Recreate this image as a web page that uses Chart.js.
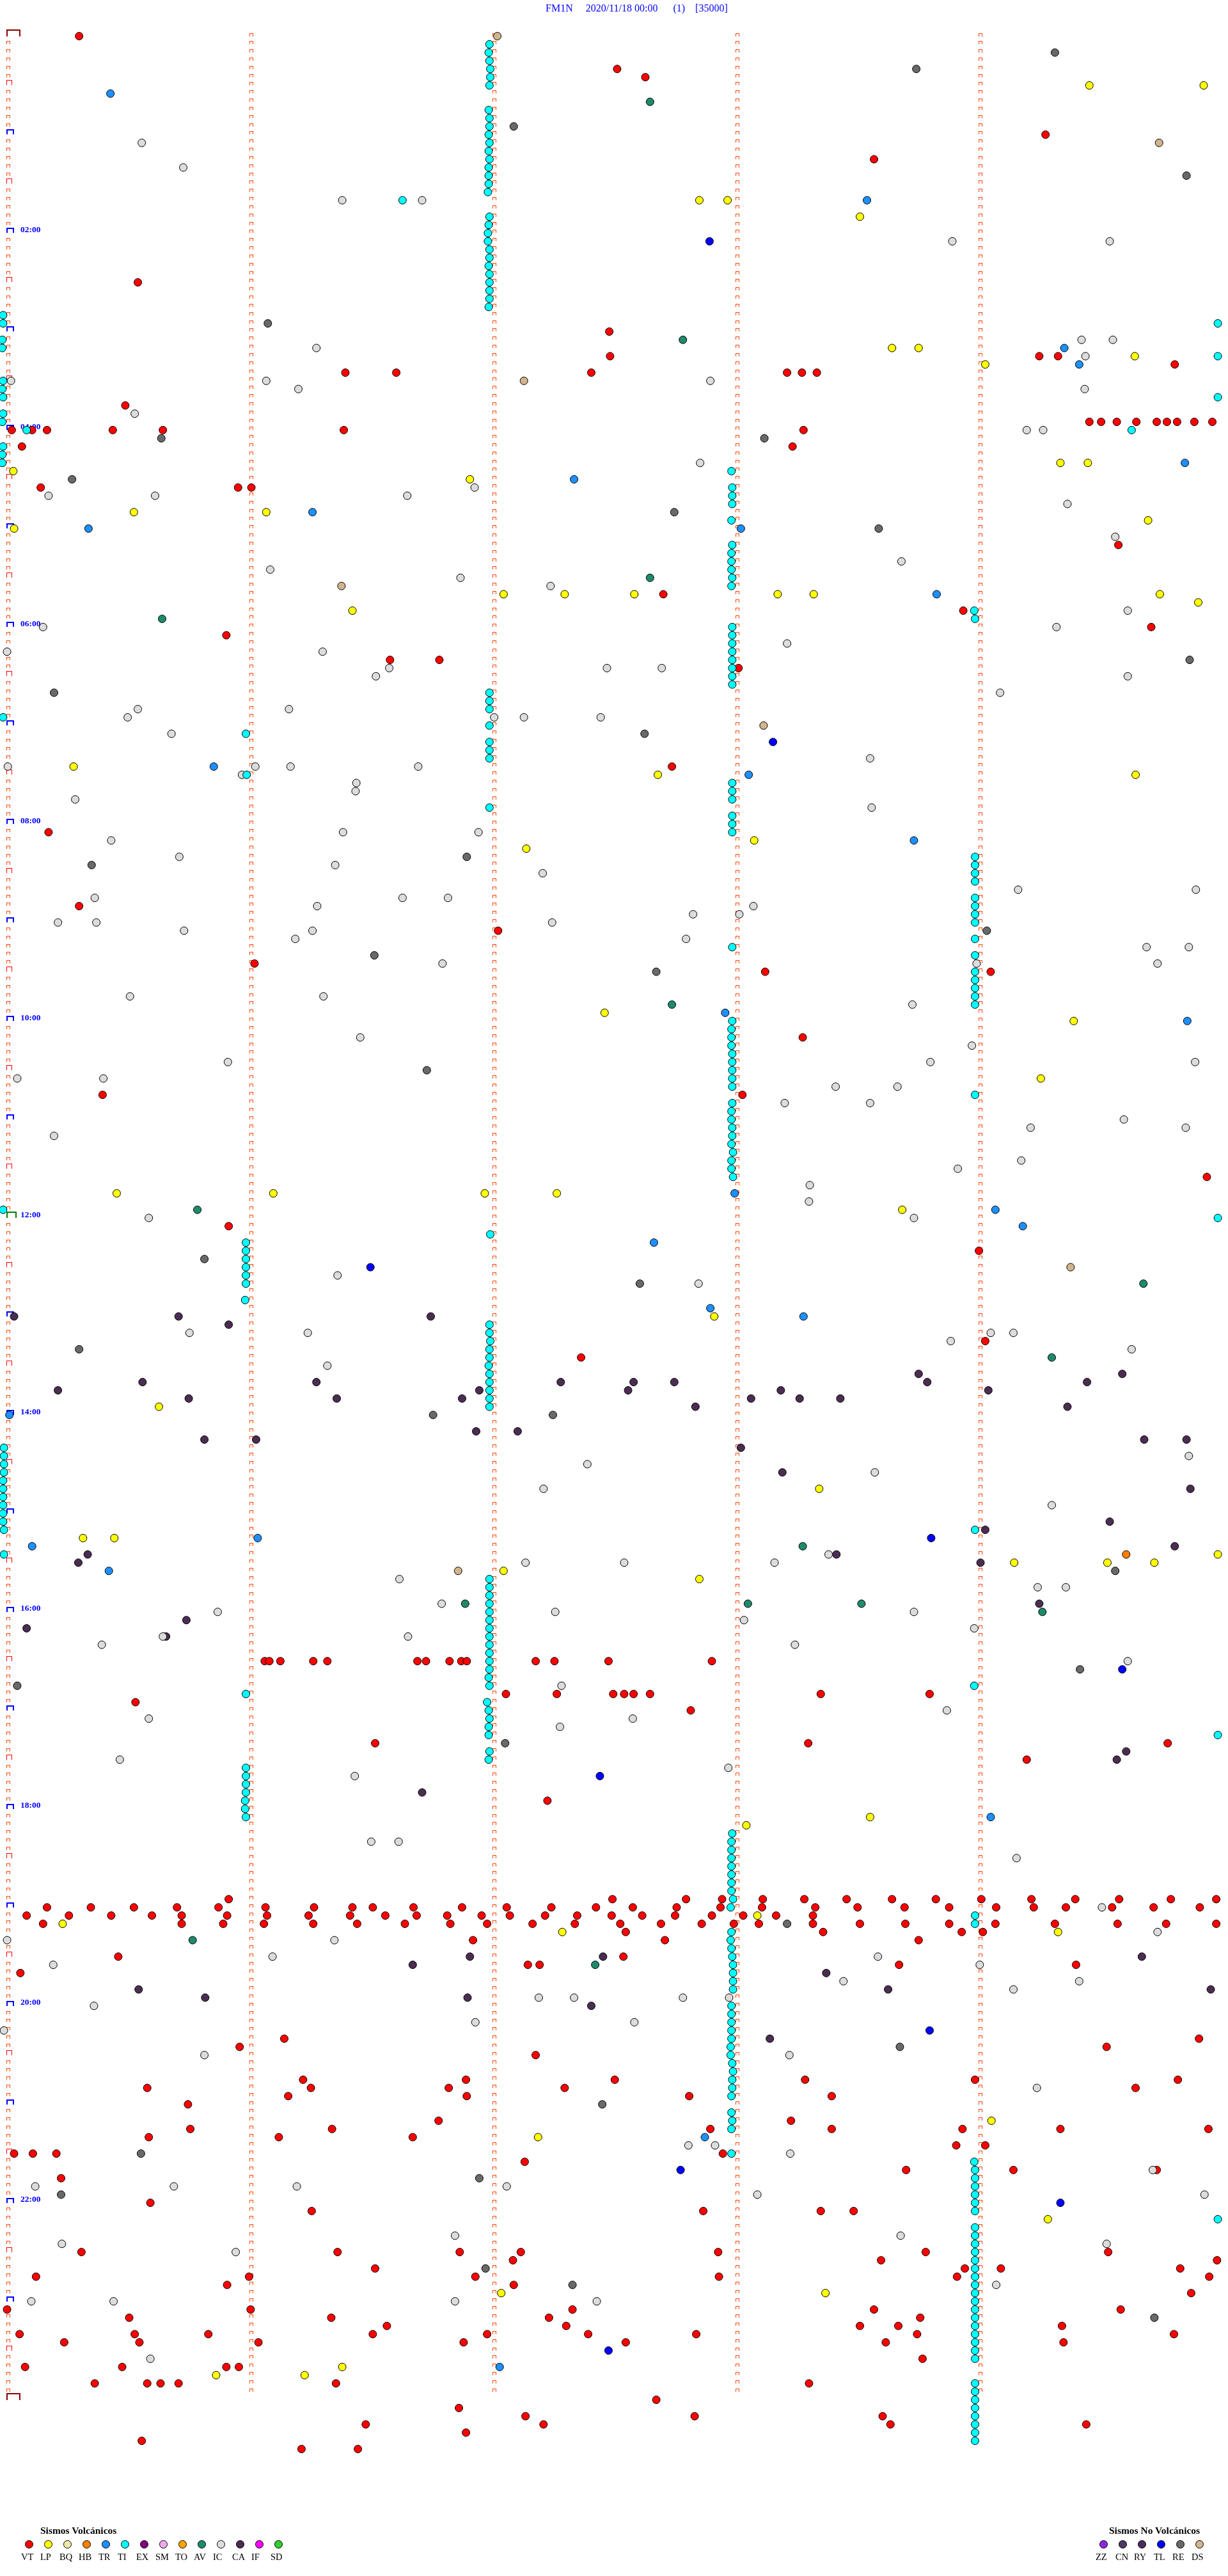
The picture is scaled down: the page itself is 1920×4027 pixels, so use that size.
<!DOCTYPE html>
<html lang="es">
<head>
<meta charset="UTF-8">
<title>FM1N 2020/11/18</title>
<script src="https://cdn.jsdelivr.net/npm/chart.js"></script>
<style>
  html, body { margin: 0; background: #fff; }
  body { position: relative; width: 1920px; height: 4027px; overflow: hidden; font-family: "Liberation Serif", serif; }
  #sismos { position: absolute; left: 0; top: 0; }
  #titulo { position: absolute; left: 853px; top: 3px; font-size: 16px; line-height: 20px; color: #0000ff; white-space: pre; }
  .grupo { position: absolute; font-weight: bold; font-size: 15.5px; line-height: 18px; color: #000; white-space: pre; }
  .punto { position: absolute; width: 11px; height: 11px; border: 1px solid #000; border-radius: 50%; }
  .sigla { position: absolute; font-size: 14.5px; line-height: 16px; color: #000; }
</style>
</head>
<body>
<canvas id="sismos" width="1920" height="4027"></canvas>
<div id="titulo">FM1N     2020/11/18 00:00      (1)    [35000]</div>
<div id="leyenda"></div>

<script>
// x: offset along the 5 minute trace (about 310 units per minute), y: trace number (one per 5 min)
const VT = [[101,0],[788,4],[824,5],[1335,12],[1116,15],[176,30],[778,36],[779,39],[1327,39],[1351,39],[1500,40],
  [441,41],[506,41],[755,41],[1005,41],[1024,41],[1043,41],[160,45],[1391,47],[1406,47],[1426,47],[1451,47],[1477,47],[1490,47],[1503,47],[1525,47],[1548,47],
  [15,48],[41,48],[60,48],[144,48],[208,48],[439,48],[1026,48],
  [28,50],[1012,50],[52,55],[304,55],[321,55],[1428,62],[847,68],[1230,70],[1470,72],[289,73],[498,76],[561,76],[943,77],[858,89],[62,97],
  [101,106],[636,109],[325,113],[977,114],[1265,114],[1025,122],[131,129],[948,129],[1541,139],[292,145],[1250,148],
  [1258,159],[742,161],
  [338,198],[344,198],[358,198],[400,198],[418,198],[533,198],[544,198],[574,198],[589,198],[596,198],[684,198],[708,198],[777,198],[909,198],
  [646,202],[711,202],[783,202],[797,202],[809,202],[830,202],[1048,202],[1187,202],[173,203],[882,204],[479,208],[1032,208],[1491,208],[1311,210],[699,215],
  [292,227],[782,227],[876,227],[922,227],[974,227],[1027,227],[1081,227],[1139,227],[1195,227],[1253,227],[1317,227],[1373,227],[1429,227],[1495,227],[1553,227],
  [60,228],[116,228],[171,228],[226,228],[279,228],[339,228],[401,228],[450,228],[476,228],[528,228],[590,228],[647,228],[704,228],[761,228],[808,228],[864,228],[920,228],[973,228],[1041,228],[1095,228],[1155,228],[1212,228],[1272,228],[1320,228],[1361,228],[1420,228],[1473,228],[1532,228],
  [34,229],[88,229],[142,229],[194,229],[232,229],[290,229],[341,229],[394,229],[447,229],[492,229],[532,229],[571,229],[615,229],[651,229],[696,229],[737,229],[781,229],[820,229],[862,229],[909,229],[949,229],[991,229],[1038,229],
  [55,230],[232,230],[285,230],[337,230],[400,230],[456,230],[517,230],[575,230],[622,230],[680,230],[734,230],[792,230],[844,230],[896,230],[937,230],[969,230],[1038,230],[1098,230],[1156,230],[1212,230],[1271,230],[1347,230],[1427,230],[1489,230],[1553,230],
  [799,231],[1051,231],[1228,231],[1255,231],[604,232],[849,232],[1173,232],[151,234],[796,234],[674,235],[689,235],[1148,235],[1374,235],[26,236],[363,244],[1531,244],[306,245],[1413,245],[684,246],
  [387,249],[595,249],[785,249],[1028,249],[1245,249],[1504,249],[188,250],[397,250],[573,250],[721,250],[1450,250],[368,251],[596,251],[880,251],[1062,251],[240,252],[560,254],[1010,254],
  [243,255],[424,255],[907,255],[1062,255],[1229,255],[1354,255],[1543,255],[190,256],[356,256],[527,256],[1221,257],[1258,257],[18,258],[42,258],[72,258],[923,258],[670,259],
  [1157,260],[1294,260],[1477,260],[78,261],[192,264],[398,265],[898,265],[1048,265],[1090,265],
  [104,270],[431,270],[587,270],[665,270],[917,270],[1182,270],[1415,270],[655,271],[1125,271],[1554,271],[479,272],[1232,272],[1278,272],[1507,272],
  [46,273],[318,273],[607,273],[918,273],[1222,273],[1544,273],[290,274],[656,274],[1521,275],[9,277],[320,277],[731,277],[1116,277],[1431,277],
  [165,278],[423,278],[701,278],[1175,278],[494,279],[723,279],[1098,279],[1147,279],[1356,279],
  [25,280],[172,280],[266,280],[476,280],[622,280],[751,280],[889,280],[1171,280],[1499,280],[82,281],[178,281],[330,281],[592,281],[799,281],[1131,281],[1358,281],
  [1178,283],[32,284],[156,284],[289,284],[305,284],[121,286],[188,286],[205,286],[228,286],[429,286],[1033,286],
  [838,288],[586,289],[671,290],[887,290],[1127,290],[467,291],[694,291],[1137,291],[1387,291],[595,292],[181,293],[385,294],[457,294]];

const LP = [[1391,6],[1537,6],[893,20],[929,20],[1098,22],[1139,38],[1173,38],[1449,39],[1258,40],
  [1354,52],[1389,52],[17,53],[600,54],[171,58],[340,58],[1466,59],[18,60],[643,68],[721,68],[810,68],[993,68],[1039,68],[1481,68],[1530,69],[450,70],[94,89],[840,90],[1450,90],[963,98],
  [672,99],[772,119],[1371,120],[1329,127],[149,141],[349,141],[619,141],[711,141],[1152,143],
  [912,156],[203,167],[1046,177],[106,183],[146,183],[1555,185],[1295,186],[1414,186],[1474,186],[643,187],[893,188],
  [1111,217],[953,218],[967,229],[80,230],[718,231],[1351,231],
  [1266,254],[687,256],[1338,266],[640,275],[1054,275],[437,284],[276,285],[389,285]];

const HB = [[1438,185]];

const TR = [[141,7],[1107,20],[1359,38],[1378,40],[1513,52],[733,54],[399,58],[113,60],[946,60],[1196,68],[273,89],[956,90],[1167,98],
  [926,119],[1516,120],[938,141],[1271,143],[1306,145],[835,147],[907,155],[1026,156],[12,168],[329,183],[41,184],[139,187],[1265,217],[900,256],[638,284]];

const TI = [[625,1],[624,2],[625,3],[626,4],[626,5],[625,6],[624,9],[625,10],[625,11],[624,12],[625,13],[624,14],[625,15],[624,16],[624,17],[624,18],[623,19],[514,20],
  [625,22],[624,23],[623,24],[623,25],[625,26],[625,27],[624,28],[625,29],[625,30],[625,31],[625,32],[624,33],
  [4,34],[4,35],[1555,35],[3,37],[3,38],[1555,39],[4,42],[3,43],[4,44],[1555,44],[4,46],[3,47],[34,48],[1445,48],
  [4,50],[3,51],[3,52],[934,53],[935,55],[935,56],[935,57],[934,59],[935,62],[934,63],[934,64],[934,65],[935,66],[934,67],[1244,70],[1245,71],
  [935,72],[935,73],[935,74],[935,75],[935,76],[935,77],[935,78],[935,79],[625,80],[625,81],[625,82],[4,83],[625,84],[314,85],[625,86],[625,87],[625,88],[315,90],
  [935,91],[935,92],[935,93],[625,94],[935,95],[935,96],[935,97],
  [1245,100],[1245,101],[1245,102],[1245,103],[1245,105],[1245,106],[1245,107],[1245,108],[1245,110],[935,111],[1245,112],[1245,114],[1245,115],[1245,116],[1245,117],[1245,118],
  [935,120],[934,121],[934,122],[934,123],[935,124],[935,125],[935,126],[935,127],[935,128],[1245,129],[935,130],[934,131],[934,132],[935,133],[935,134],[934,135],[936,136],[934,137],[934,138],[936,139],
  [4,143],[1555,144],[626,146],[314,147],[314,148],[314,149],[314,150],[314,151],[314,152],[313,154],
  [625,157],[625,158],[626,159],[625,160],[625,161],[624,162],[625,163],[625,164],[625,165],[625,166],[625,167],
  [5,172],[5,173],[5,174],[5,175],[4,176],[4,177],[4,178],[4,179],[4,180],[4,181],[5,182],[1245,182],[5,185],
  [625,188],[625,189],[625,190],[625,191],[625,192],[625,193],[625,194],[625,195],[625,196],[625,197],[625,198],[625,199],[624,200],[625,201],[1244,201],[314,202],
  [622,203],[624,204],[625,205],[624,206],[624,207],[1555,207],[625,209],[624,210],[314,211],[314,212],[314,213],[314,214],[313,215],[313,216],[314,217],
  [935,219],[934,220],[934,221],[934,222],[934,223],[934,224],[934,225],[934,226],[936,227],[933,228],[1245,229],[1245,230],
  [934,231],[933,232],[934,233],[935,234],[936,235],[936,236],[936,237],[936,238],[934,240],[934,241],[934,242],[934,243],[934,244],[933,245],[933,246],[935,247],[936,248],
  [935,249],[935,250],[934,251],[934,253],[935,254],[934,255],[934,258],
  [1244,259],[1245,260],[1245,261],[1245,262],[1245,263],[1245,264],[1245,265],[1555,266],[1245,267],[1245,268],[1245,269],[1245,270],[1245,271],[1245,272],[1245,273],[1245,274],[1245,275],[1245,276],
  [1245,277],[1245,278],[1245,279],[1245,280],[1245,281],[1245,282],[1245,283],[1245,286],[1245,287],[1245,288],[1245,289],[1245,290],[1245,291],[1245,292],[1245,293]];

const AV = [[830,8],[872,37],[830,66],[207,71],[858,118],[252,143],[1460,152],[1343,161],[1025,184],[594,191],[955,191],[1100,191],[1331,192],[246,232],[760,235]];

const IC = [[181,13],[234,16],[437,20],[539,20],[1216,25],[1417,25],[1381,37],[1421,37],[404,38],[1386,39],[14,42],[340,42],[907,42],[381,43],[1385,43],[172,46],[1311,48],[1332,48],
  [894,52],[606,55],[62,56],[198,56],[520,56],[1363,57],[1424,61],[1151,64],[345,65],[588,66],[703,67],[1440,70],[55,72],[1349,72],[1005,74],[9,75],[412,75],
  [497,77],[775,77],[845,77],[480,78],[1440,78],[1277,80],[176,82],[369,82],[163,83],[631,83],[669,83],[767,83],[219,85],[1111,88],[10,89],[326,89],[371,89],[534,89],[309,90],[455,91],[454,92],[96,93],[1113,94],[438,97],[611,97],[142,98],
  [229,100],[428,101],[693,102],[1300,104],[1527,104],[121,105],[514,105],[572,105],[405,106],[962,106],[885,107],[944,107],[74,108],[123,108],[705,108],[235,109],[399,109],[377,110],[876,110],[1464,111],[1518,111],
  [565,113],[1247,113],[1478,113],[166,117],[413,117],[1165,118],[460,122],[1241,123],[291,125],[1188,125],[1526,125],[22,127],[132,127],[1067,128],[1146,128],[1002,130],[1111,130],[1435,132],[1316,133],[1514,133],[69,134],[1304,137],[1223,138],[1034,140],[1033,142],[190,144],[1167,144],
  [431,151],[892,152],[242,158],[393,158],[1265,158],[1294,158],[1214,159],[1445,160],[418,162],[1518,173],[750,174],[1117,175],[694,177],[1343,179],[1058,185],[671,186],[797,186],[989,186],[510,188],[1325,189],[1361,189],[564,191],[278,192],[709,192],[1167,192],[950,193],[1244,194],[208,195],[521,195],[130,196],[1015,196],[1440,198],
  [717,201],[1209,204],[190,205],[808,205],[715,206],[153,210],[930,211],[453,212],[474,220],[509,220],[1298,222],[1407,228],[1478,231],[9,232],[427,232],[348,234],[1121,234],[68,235],[1251,235],[1077,237],[1378,237],[1294,238],[688,239],[733,239],[872,239],[931,239],[120,240],[607,242],[810,242],[5,243],[261,246],[1008,246],
  [1324,250],[879,257],[913,257],[1009,258],[1472,260],[45,262],[222,262],[379,262],[647,262],[967,263],[1538,263],[581,268],[1150,268],[79,269],[1413,269],[301,270],[1272,274],[40,276],[145,276],[581,276],[762,276],[192,283]];

const CA = [[18,156],[228,156],[550,156],[292,157],[1173,163],[1433,163],[182,164],[404,164],[716,164],[809,164],[861,164],[1184,164],[1388,164],[74,165],[612,165],[802,165],[997,165],[1262,165],
  [241,166],[430,166],[590,166],[959,166],[1021,166],[1073,166],[888,167],[1363,167],[608,170],[661,170],[261,171],[327,171],[1461,171],[1515,171],[946,172],[999,175],[1520,177],[1417,181],[1258,182],[1500,184],[112,185],[1068,185],[100,186],[1252,186],[1327,191],[238,193],[34,194],[212,195],
  [1438,209],[1426,210],[539,214],[600,234],[770,234],[1458,234],[527,235],[1055,236],[177,238],[1134,238],[1546,238],[262,239],[597,239],[755,240],[983,244]];

const TL = [[906,25],[987,86],[473,150],[1189,183],[1433,199],[766,212],[1187,243],[869,260],[1354,264],[777,282]];

const RE = [[1347,2],[1170,4],[656,11],[1515,17],[342,35],[206,49],[976,49],[92,54],[861,58],[1122,60],[1519,76],[69,80],[823,85],
  [596,100],[117,101],[1260,109],[478,112],[838,114],[545,126],[261,149],[817,152],[101,160],[553,168],[706,168],[1424,187],
  [1379,199],[22,201],[645,208],[1005,230],[1149,245],[769,252],[180,258],[612,261],[78,263],[620,272],[731,274],[1474,278]];

const DS = [[635,0],[1480,13],[669,42],[436,67],[975,84],[1367,150],[585,187]];

// legend groups and hour labels
const volcanicos = ['VT','LP','BQ','HB','TR','TI','EX','SM','TO','AV','IC','CA','IF','SD'];
const noVolcanicos = ['ZZ','CN','RY','TL','RE','DS'];
const hourLabels = ['02:00','04:00','06:00','08:00','10:00','12:00','14:00','16:00','18:00','20:00','22:00'];
const hourRows = [24,48,72,96,120,144,168,192,216,240,264];

// minute columns of the tick marks, and which traces get a special mark on the first one
const minuteColumns = [8.2,318.5,629,939,1249.5];
const halfHourRows = [6,18,30,42,54,66,78,90,102,114,126,138,150,162,174,186,198,210,222,234,246,258,270,282];
const hourRowsAll = [12,24,36,48,60,72,84,96,108,120,132,156,168,180,192,204,216,228,240,252,264,276];
const noonRows = [144];
const dayEndRows = [0,288];
const lastTrace = 287;

const colores = {
  VT:'#ff0000', LP:'#ffff00', BQ:'#eee8aa', HB:'#ff7f00', TR:'#1e90ff', TI:'#00ffff', EX:'#800080', SM:'#eeaaee', TO:'#ffa500',
  AV:'#1f8a6b', IC:'#dcdcdc', CA:'#4b2d52', IF:'#ff00ff', SD:'#32cd32',
  ZZ:'#8a2be2', CN:'#4b3a63', RY:'#4b2d5c', TL:'#0000ff', RE:'#696969', DS:'#d2b48c'
};

// bracket shaped tick, canvas centre is the lower left corner so the point sits on the trace line
function marca(ancho, alto, color, grueso) {
  const c = document.createElement('canvas');
  c.width = 64;
  c.height = 32;
  const g = c.getContext('2d');
  g.fillStyle = color;
  const x0 = 32, y0 = 16;
  g.fillRect(x0, y0 - alto, ancho, grueso);
  g.fillRect(x0, y0 - alto, grueso, alto);
  g.fillRect(x0 + ancho - grueso, y0 - alto, grueso, alto);
  return c;
}

const tickPoints = [];
minuteColumns.forEach((x, i) => {
  for (let r = i === 0 ? 1 : 0; r <= lastTrace; r++) {
    if (i === 0 && (r % 6 === 0)) continue;
    tickPoints.push({ x: x, y: r });
  }
});
const enColumna = rows => rows.map(r => ({ x: minuteColumns[0], y: r }));

function serieMarca(datos, imagen) {
  return { label: '', data: datos, pointStyle: imagen, pointRadius: 3, showLine: false, order: 50 };
}
function serie(nombre, datos) {
  return {
    label: nombre,
    data: datos.map(p => ({ x: p[0], y: p[1] })),
    pointStyle: 'circle',
    pointRadius: 6,
    pointHoverRadius: 6,
    pointBorderWidth: 1,
    pointBorderColor: '#000000',
    pointBackgroundColor: colores[nombre],
    showLine: false,
    order: 10
  };
}

new Chart(document.getElementById('sismos'), {
  type: 'scatter',
  data: {
    datasets: [
      serieMarca(tickPoints, marca(6, 5, '#ff4500', 1)),
      serieMarca(enColumna(halfHourRows), marca(9, 8, '#ff0000', 1)),
      serieMarca(enColumna(hourRowsAll), marca(12, 8, '#0000ff', 2)),
      serieMarca(enColumna(noonRows), marca(16, 10, '#008000', 2)),
      serieMarca(enColumna(dayEndRows), marca(22, 11, '#8b0000', 2)),
      serie('TI', TI), serie('IC', IC), serie('RE', RE), serie('DS', DS), serie('AV', AV),
      serie('CA', CA), serie('TR', TR), serie('TL', TL), serie('HB', HB), serie('LP', LP), serie('VT', VT)
    ]
  },
  options: {
    responsive: false,
    animation: false,
    devicePixelRatio: 1,
    layout: { padding: 0, autoPadding: false },
    events: [],
    plugins: { legend: { display: false }, tooltip: { enabled: false }, title: { display: false } },
    scales: {
      x: { type: 'linear', display: false, min: 0, max: 1568 },
      y: {
        type: 'linear',
        reverse: true,
        min: -4.404,
        max: 309.47,
        grid: { display: false },
        border: { display: false },
        afterBuildTicks: axis => { axis.ticks = hourRows.map(r => ({ value: r - 0.38 })); },
        afterFit: axis => { axis.width = 0; axis.paddingTop = 0; axis.paddingBottom = 0; },
        ticks: {
          mirror: true,
          padding: 32,
          autoSkip: false,
          color: '#0000ff',
          font: { family: 'Liberation Serif', size: 13.5, weight: 'bold' },
          callback: (v, i) => hourLabels[i]
        }
      }
    }
  },
  plugins: [{
    id: 'sinSuavizar',
    beforeDatasetsDraw(chart) { chart.ctx.imageSmoothingEnabled = false; }
  }]
});

// legend at the foot of the page
const leyenda = document.getElementById('leyenda');
function agregar(clase, left, top, texto, color) {
  const el = document.createElement('div');
  el.className = clase;
  el.style.left = left + 'px';
  el.style.top = top + 'px';
  if (texto) el.textContent = texto;
  if (color) el.style.background = color;
  leyenda.appendChild(el);
}
const labelLeft = [33,63,93,123,154,184,213,243,274,303,333,363,393,423];
agregar('grupo', 63, 3947, 'Sismos Volcánicos');
volcanicos.forEach((t, i) => {
  agregar('punto', 39 + i * 30, 3971, '', colores[t]);
  agregar('sigla', labelLeft[i], 3989, t);
});
const labelLeftNo = [1713,1744,1773,1804,1833,1863];
agregar('grupo', 1734, 3947, 'Sismos No Volcánicos');
noVolcanicos.forEach((t, i) => {
  agregar('punto', 1719 + i * 30, 3971, '', colores[t]);
  agregar('sigla', labelLeftNo[i], 3989, t);
});
</script>
</body>
</html>
